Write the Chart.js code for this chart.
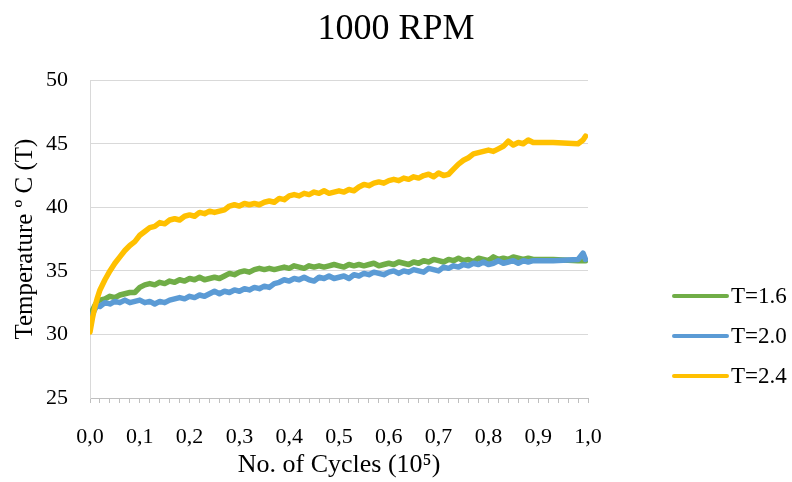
<!DOCTYPE html>
<html lang="en">
<head>
  <meta charset="UTF-8">
  <title>1000 RPM</title>
  <script src="https://cdn.jsdelivr.net/npm/chart.js"></script>
  <style>
    html, body { margin: 0; padding: 0; background: #ffffff; }
    .chart-box { position: relative; width: 792px; height: 482px; }
  </style>
</head>
<body>
<div class="chart-box">
  <canvas id="rpmChart"></canvas>
</div>

<script>
  // x values, in units of 10^5 cycles
  const cycles = [
    0, 0.005, 0.01, 0.015, 0.02,
    0.03, 0.04, 0.05, 0.06, 0.07, 0.08, 0.09, 0.10,
    0.11, 0.12, 0.13, 0.14, 0.15, 0.16, 0.17, 0.18, 0.19, 0.20,
    0.21, 0.22, 0.23, 0.24, 0.25, 0.26, 0.27, 0.28, 0.29, 0.30,
    0.31, 0.32, 0.33, 0.34, 0.35, 0.36, 0.37, 0.38, 0.39, 0.40,
    0.41, 0.42, 0.43, 0.44, 0.45, 0.46, 0.47, 0.48, 0.49, 0.50,
    0.51, 0.52, 0.53, 0.54, 0.55, 0.56, 0.57, 0.58, 0.59, 0.60,
    0.61, 0.62, 0.63, 0.64, 0.65, 0.66, 0.67, 0.68, 0.69, 0.70,
    0.71, 0.72, 0.73, 0.74, 0.75, 0.76, 0.77, 0.78, 0.79, 0.80,
    0.81, 0.82, 0.83, 0.84, 0.85, 0.86, 0.87, 0.88, 0.89,
    0.93, 0.98, 0.99, 0.995
  ];

  const tempT16 = [
    31.4, 31.9, 32.3, 32.6, 32.7,
    32.8, 33.0, 32.9, 33.1, 33.2, 33.3, 33.3, 33.7,
    33.9, 34.0, 33.9, 34.1, 34.0, 34.2, 34.1, 34.3, 34.2, 34.4,
    34.3, 34.5, 34.3, 34.4, 34.5, 34.4, 34.6, 34.8, 34.7, 34.9,
    35.0, 34.9, 35.1, 35.2, 35.1, 35.2, 35.1, 35.2, 35.3, 35.2,
    35.4, 35.3, 35.2, 35.4, 35.3, 35.4, 35.3, 35.4, 35.5, 35.4,
    35.3, 35.5, 35.4, 35.5, 35.4, 35.5, 35.6, 35.4, 35.5, 35.6,
    35.5, 35.7, 35.6, 35.5, 35.7, 35.6, 35.8, 35.7, 35.9, 35.8,
    35.7, 35.9, 35.8, 36.0, 35.8, 35.9, 35.7, 36.0, 35.9, 35.8,
    36.1, 35.9, 36.0, 35.9, 36.1, 36.0, 35.9, 36.0, 35.9,
    35.9, 35.8, 35.8, 35.8
  ];

  const tempT20 = [
    30.9, 31.6, 32.0, 32.3, 32.2,
    32.5, 32.4, 32.6, 32.5, 32.7, 32.5, 32.6, 32.7,
    32.5, 32.6, 32.4, 32.6, 32.5, 32.7, 32.8, 32.9, 32.8, 33.0,
    32.9, 33.1, 33.0, 33.2, 33.4, 33.2, 33.4, 33.3, 33.5, 33.4,
    33.6, 33.5, 33.7, 33.6, 33.8, 33.7, 34.0, 34.1, 34.3, 34.2,
    34.4, 34.3, 34.5, 34.3, 34.2, 34.5, 34.4, 34.6, 34.4, 34.5,
    34.6, 34.4, 34.7, 34.6, 34.8, 34.7, 34.9, 34.8, 34.7, 34.9,
    35.0, 34.8, 35.0, 34.9, 35.1, 35.0, 34.9, 35.2, 35.1, 35.0,
    35.3, 35.2, 35.4, 35.3, 35.5, 35.4, 35.6, 35.5, 35.7, 35.5,
    35.6, 35.8, 35.6, 35.7, 35.8, 35.6, 35.8, 35.7, 35.8,
    35.8, 35.9, 36.4, 35.9
  ];

  const tempT24 = [
    30.2, 31.3, 32.2, 32.9, 33.5,
    34.3, 35.0, 35.6, 36.1, 36.6, 37.0, 37.3, 37.8,
    38.1, 38.4, 38.5, 38.8, 38.7, 39.0, 39.1, 39.0, 39.3, 39.4,
    39.3, 39.6, 39.5, 39.7, 39.6, 39.7, 39.8, 40.1, 40.2, 40.1,
    40.3, 40.2, 40.3, 40.2, 40.4, 40.5, 40.4, 40.7, 40.6, 40.9,
    41.0, 40.9, 41.1, 41.0, 41.2, 41.1, 41.3, 41.1, 41.2, 41.3,
    41.2, 41.4, 41.3, 41.6, 41.8, 41.7, 41.9, 42.0, 41.9, 42.1,
    42.2, 42.1, 42.3, 42.2, 42.4, 42.3, 42.5, 42.6, 42.4, 42.7,
    42.5, 42.6, 43.0, 43.4, 43.7, 43.9, 44.2, 44.3, 44.4, 44.5,
    44.4, 44.6, 44.8, 45.2, 44.9, 45.1, 45.0, 45.3, 45.1,
    45.1, 45.0, 45.3, 45.6
  ];

  const seriesNames = ['T=1.6', 'T=2.0', 'T=2.4'];
  const seriesColors = ['#70AD47', '#5B9BD5', '#FFC000'];
  const seriesValues = [tempT16, tempT20, tempT24];

  const serif = "'Liberation Serif', 'Times New Roman', serif";

  function toPoints(values) {
    return values.map((v, i) => ({ x: cycles[i], y: v }));
  }

  // legend drawn by hand on the right, like the Excel original
  const sideLegend = {
    id: 'sideLegend',
    afterDraw(chart) {
      const c = chart.ctx;
      c.save();
      c.font = '23px ' + serif;
      c.textBaseline = 'middle';
      c.fillStyle = '#000';
      seriesNames.forEach((name, i) => {
        const y = 296 + i * 40;
        c.strokeStyle = seriesColors[i];
        c.lineWidth = 4;
        c.lineCap = 'round';
        c.beginPath();
        c.moveTo(674, y);
        c.lineTo(727, y);
        c.stroke();
        c.fillText(name, 731, y + 1);
      });
      c.restore();
    }
  };

  const ctx = document.getElementById('rpmChart').getContext('2d');
  const rpmChart = new Chart(ctx, {
    type: 'line',
    data: {
      datasets: seriesValues.map((vals, i) => ({
        label: seriesNames[i],
        data: toPoints(vals),
        borderColor: seriesColors[i],
        backgroundColor: seriesColors[i],
        borderWidth: 5.5,
        pointRadius: 0,
        tension: 0,
        borderJoinStyle: 'round',
        borderCapStyle: 'round',
        order: 3 - i
      }))
    },
    options: {
      responsive: true,
      maintainAspectRatio: false,
      animation: false,
      layout: { padding: 0 },
      plugins: {
        legend: { display: false },
        tooltip: { enabled: false },
        title: {
          display: true,
          text: '1000 RPM',
          color: '#000',
          font: { family: serif, size: 36, weight: 'normal' },
          padding: { top: 8, bottom: 29 }
        }
      },
      scales: {
        x: {
          type: 'linear',
          min: 0,
          max: 1,
          afterFit(scale) { scale.height = 84; },
          border: { display: true, color: '#BFBFBF', width: 1 },
          grid: {
            drawOnChartArea: false,
            drawTicks: true,
            tickLength: 5,
            color: '#BFBFBF'
          },
          ticks: {
            stepSize: 0.02,
            maxTicksLimit: 60,
            autoSkip: false,
            maxRotation: 0,
            padding: 21,
            color: '#000',
            font: { family: serif, size: 22 },
            callback: function (v) {
              const k = Math.round(v * 50);
              return k % 5 === 0 ? (k / 50).toFixed(1).replace('.', ',') : '';
            }
          },
          title: {
            display: true,
            text: 'No. of Cycles (10\u2075)',
            color: '#000',
            font: { family: serif, size: 26 },
            padding: { top: 1, bottom: 1 }
          }
        },
        y: {
          min: 25,
          max: 50,
          afterFit(scale) { scale.width = 90; },
          border: { display: true, color: '#D9D9D9', width: 1 },
          grid: { color: '#D9D9D9', drawTicks: false },
          ticks: {
            stepSize: 5,
            padding: 22,
            color: '#000',
            font: { family: serif, size: 22 }
          },
          title: {
            display: true,
            text: 'Temperature \u00ba C (T)',
            color: '#000',
            font: { family: serif, size: 25 },
            padding: { top: 10, bottom: 6 }
          }
        },
        // empty axis on the right that keeps room for the legend
        side: {
          type: 'linear',
          position: 'right',
          afterFit(scale) { scale.width = 204; },
          border: { display: false },
          grid: { display: false },
          ticks: { display: false }
        }
      }
    },
    plugins: [sideLegend]
  });
</script>
</body>
</html>
